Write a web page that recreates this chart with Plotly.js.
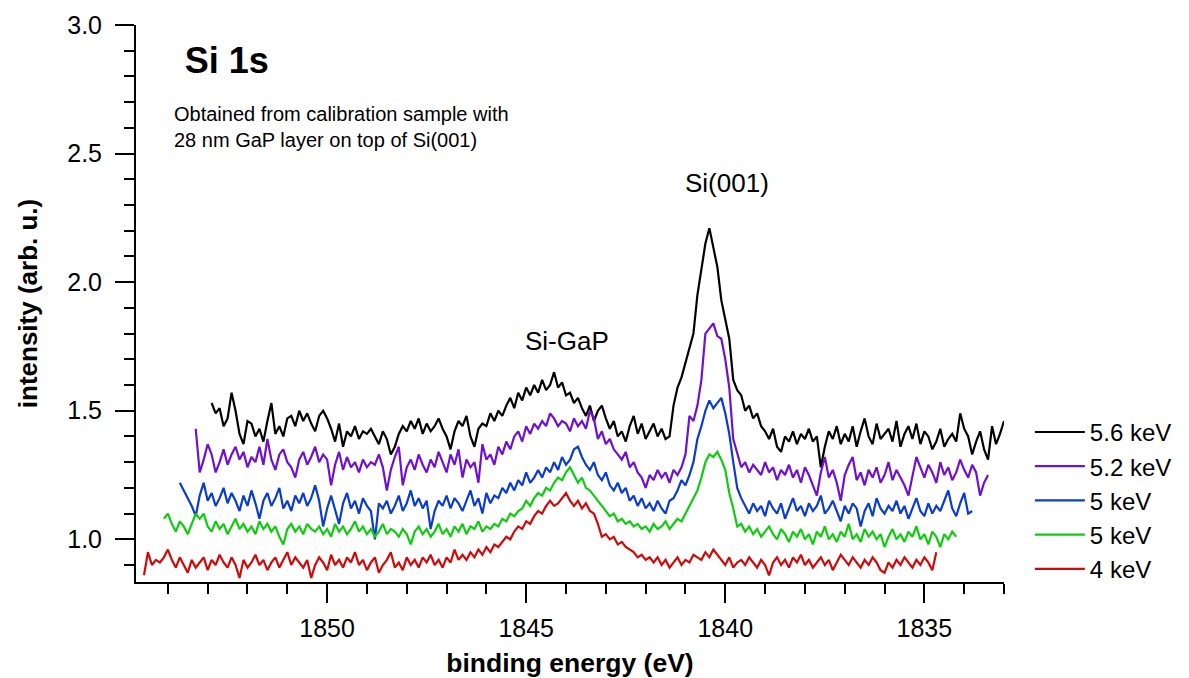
<!DOCTYPE html>
<html>
<head>
<meta charset="utf-8">
<script src="https://cdn.plot.ly/plotly-3.0.1.min.js"></script>
<style>html,body{margin:0;padding:0;background:#fff;}#chart{width:1189px;height:678px;}</style>
</head>
<body>
<div id="chart"></div>
<script>
// Energy grid: each spectrum starts at its own binding energy and is sampled every 0.1 eV (descending)
const stepEV = 0.1;
const seriesNames = ["5.6 keV", "5.2 keV", "5 keV", "5 keV", "4 keV"];
const seriesStart = [1852.9, 1853.3, 1853.7, 1854.1, 1854.6];

const int56 = [
1.53,1.49,1.51,1.44,1.47,1.57,1.50,1.41,1.37,1.46,
1.45,1.40,1.43,1.38,1.46,1.53,1.41,1.44,1.40,1.47,
1.48,1.44,1.50,1.46,1.49,1.45,1.42,1.48,1.50,1.47,
1.43,1.38,1.45,1.36,1.42,1.40,1.44,1.39,1.42,1.41,
1.43,1.40,1.37,1.42,1.39,1.33,1.36,1.41,1.44,1.42,
1.46,1.43,1.47,1.41,1.45,1.42,1.44,1.47,1.43,1.40,
1.35,1.42,1.46,1.44,1.48,1.40,1.36,1.43,1.45,1.44,
1.49,1.46,1.50,1.48,1.52,1.55,1.51,1.57,1.54,1.59,
1.56,1.60,1.57,1.62,1.58,1.60,1.65,1.59,1.61,1.56,
1.57,1.53,1.55,1.51,1.48,1.52,1.46,1.50,1.52,1.47,
1.43,1.46,1.40,1.42,1.38,1.44,1.48,1.41,1.45,1.39,
1.42,1.45,1.40,1.43,1.39,1.40,1.52,1.59,1.63,1.69,
1.74,1.80,1.95,2.06,2.15,2.21,2.13,2.06,1.93,1.86,
1.78,1.62,1.58,1.56,1.50,1.52,1.47,1.49,1.44,1.42,
1.39,1.43,1.36,1.34,1.40,1.38,1.42,1.37,1.41,1.39,
1.43,1.38,1.40,1.28,1.36,1.42,1.39,1.44,1.37,1.41,
1.38,1.44,1.36,1.42,1.47,1.40,1.37,1.45,1.39,1.41,
1.43,1.38,1.46,1.36,1.41,1.44,1.39,1.45,1.37,1.42,
1.40,1.35,1.38,1.43,1.36,1.39,1.41,1.38,1.49,1.43,
1.40,1.33,1.38,1.42,1.35,1.31,1.44,1.37,1.41,1.46
];

const int52 = [
1.43,1.26,1.31,1.37,1.33,1.26,1.30,1.35,1.29,1.33,
1.36,1.31,1.34,1.28,1.32,1.30,1.36,1.29,1.39,1.31,
1.27,1.33,1.35,1.30,1.28,1.24,1.31,1.34,1.29,1.32,
1.36,1.30,1.33,1.31,1.21,1.29,1.34,1.27,1.32,1.28,
1.30,1.26,1.31,1.28,1.30,1.29,1.33,1.28,1.19,1.27,
1.32,1.36,1.21,1.28,1.31,1.27,1.33,1.29,1.26,1.31,
1.28,1.34,1.30,1.26,1.33,1.29,1.35,1.24,1.31,1.28,
1.30,1.22,1.37,1.31,1.33,1.29,1.36,1.33,1.38,1.35,
1.40,1.42,1.38,1.44,1.41,1.45,1.43,1.46,1.44,1.49,
1.47,1.44,1.46,1.45,1.42,1.47,1.44,1.46,1.43,1.50,
1.47,1.39,1.42,1.37,1.39,1.35,1.33,1.31,1.34,1.28,
1.30,1.26,1.24,1.20,1.25,1.23,1.27,1.24,1.26,1.22,
1.27,1.25,1.28,1.33,1.48,1.46,1.52,1.62,1.80,1.82,
1.84,1.79,1.78,1.70,1.59,1.39,1.33,1.28,1.30,1.26,
1.29,1.27,1.25,1.30,1.26,1.28,1.23,1.27,1.25,1.29,
1.24,1.27,1.22,1.28,1.25,1.21,1.17,1.26,1.32,1.24,
1.27,1.22,1.15,1.25,1.29,1.32,1.23,1.26,1.21,1.27,
1.24,1.28,1.22,1.25,1.30,1.23,1.27,1.24,1.21,1.17,
1.25,1.32,1.28,1.24,1.29,1.26,1.22,1.30,1.25,1.28,
1.23,1.26,1.31,1.27,1.24,1.29,1.26,1.17,1.22,1.25
];

const int50a = [
1.22,1.19,1.16,1.13,1.09,1.17,1.22,1.15,1.18,1.13,
1.16,1.20,1.14,1.18,1.15,1.11,1.17,1.13,1.19,1.14,
1.08,1.15,1.18,1.13,1.16,1.20,1.12,1.15,1.11,1.17,
1.14,1.18,1.13,1.16,1.21,1.15,1.05,1.12,1.17,1.11,
1.06,1.14,1.18,1.12,1.15,1.10,1.16,1.13,1.11,1.00,
1.14,1.12,1.15,1.10,1.13,1.17,1.11,1.14,1.19,1.13,
1.16,1.12,1.15,1.04,1.11,1.15,1.13,1.17,1.12,1.16,
1.14,1.11,1.15,1.19,1.13,1.16,1.10,1.18,1.14,1.17,
1.16,1.20,1.18,1.22,1.19,1.23,1.21,1.26,1.22,1.24,
1.27,1.24,1.28,1.26,1.30,1.27,1.32,1.29,1.31,1.35,
1.36,1.32,1.29,1.27,1.30,1.25,1.23,1.26,1.21,1.19,
1.22,1.18,1.20,1.15,1.17,1.13,1.16,1.12,1.14,1.11,
1.15,1.12,1.10,1.15,1.16,1.19,1.23,1.21,1.25,1.30,
1.39,1.44,1.50,1.54,1.51,1.53,1.55,1.49,1.41,1.30,
1.20,1.16,1.13,1.10,1.14,1.11,1.13,1.09,1.15,1.12,
1.10,1.14,1.08,1.12,1.16,1.11,1.13,1.09,1.14,1.11,
1.13,1.17,1.10,1.12,1.15,1.11,1.07,1.13,1.10,1.14,
1.12,1.05,1.11,1.14,1.09,1.16,1.12,1.10,1.13,1.11,
1.15,1.10,1.13,1.08,1.12,1.16,1.11,1.09,1.14,1.10,
1.13,1.11,1.15,1.19,1.12,1.09,1.14,1.18,1.10,1.11
];

const int50b = [
1.08,1.10,1.06,1.03,1.07,1.05,1.02,1.06,1.10,1.08,
1.10,1.05,1.03,1.07,1.04,1.06,1.02,1.05,1.08,1.04,
1.06,1.03,1.05,1.02,1.07,1.04,1.06,1.03,1.05,1.01,
0.98,1.04,1.06,1.03,1.05,1.02,1.06,1.04,1.03,1.05,
1.02,1.04,1.01,1.06,1.03,1.05,1.02,1.04,1.07,1.03,
1.05,1.02,1.04,1.01,1.03,1.06,1.02,1.04,1.03,1.01,
1.04,1.02,0.98,1.03,1.05,1.02,1.04,1.01,1.03,1.06,
1.02,1.04,1.01,1.05,1.03,1.06,1.02,1.05,1.04,1.07,
1.03,1.05,1.04,1.06,1.05,1.08,1.07,1.10,1.09,1.11,
1.12,1.15,1.13,1.16,1.18,1.17,1.20,1.19,1.22,1.24,
1.23,1.26,1.28,1.25,1.22,1.24,1.20,1.19,1.17,1.15,
1.13,1.11,1.09,1.10,1.07,1.08,1.06,1.07,1.05,1.06,
1.04,1.05,1.03,1.06,1.04,1.05,1.07,1.04,1.06,1.08,
1.07,1.10,1.13,1.16,1.19,1.24,1.30,1.33,1.32,1.34,
1.31,1.27,1.18,1.12,1.05,1.06,1.03,1.05,1.02,1.04,
1.01,1.03,1.05,1.02,1.00,1.04,1.02,0.99,1.03,1.01,
1.04,1.00,1.02,0.98,1.03,1.01,1.05,1.00,1.02,0.99,
1.03,1.01,1.06,1.00,1.02,0.99,1.04,1.01,1.03,1.00,
1.02,0.97,1.01,1.04,1.00,1.02,0.99,1.03,1.01,1.05,
1.00,1.02,0.98,1.03,1.01,0.97,1.02,1.00,1.03,1.01
];

const int40 = [
0.86,0.95,0.90,0.92,0.91,0.93,0.96,0.92,0.89,0.93,
0.90,0.87,0.92,0.89,0.91,0.93,0.88,0.92,0.90,0.94,
0.91,0.89,0.93,0.90,0.85,0.92,0.89,0.91,0.94,0.90,
0.92,0.88,0.91,0.93,0.89,0.92,0.95,0.90,0.93,0.91,
0.89,0.92,0.85,0.90,0.93,0.91,0.88,0.94,0.90,0.92,
0.89,0.93,0.91,0.95,0.90,0.92,0.88,0.91,0.93,0.87,
0.90,0.92,0.95,0.89,0.91,0.88,0.93,0.90,0.92,0.89,
0.93,0.91,0.94,0.90,0.92,0.89,0.93,0.91,0.96,0.92,
0.94,0.92,0.95,0.93,0.96,0.94,0.97,0.95,0.98,0.97,
0.99,1.01,1.00,1.03,1.05,1.04,1.07,1.06,1.09,1.11,
1.10,1.13,1.15,1.13,1.14,1.16,1.18,1.15,1.13,1.15,
1.12,1.14,1.11,1.10,1.06,1.01,1.02,1.00,1.01,0.98,
0.99,0.97,0.96,0.95,0.93,0.94,0.92,0.93,0.91,0.93,
0.90,0.92,0.89,0.91,0.93,0.90,0.92,0.91,0.94,0.93,
0.92,0.95,0.93,0.96,0.94,0.92,0.90,0.93,0.89,0.91,
0.92,0.90,0.93,0.91,0.89,0.92,0.90,0.86,0.91,0.93,
0.90,0.92,0.89,0.93,0.91,0.94,0.90,0.92,0.89,0.91,
0.93,0.90,0.92,0.88,0.91,0.94,0.92,0.90,0.93,0.91,
0.89,0.92,0.90,0.93,0.91,0.88,0.87,0.91,0.89,0.92,
0.90,0.93,0.91,0.89,0.92,0.90,0.93,0.91,0.88,0.95
];

const seriesValues = [int56, int52, int50a, int50b, int40];
const seriesColors = ["#000000", "#7010d0", "#0a3cd0", "#10cc10", "#d00a0a"];

const xTickVals = [1850, 1845, 1840, 1835];
const yTickVals = [1.0, 1.5, 2.0, 2.5, 3.0];

const FONT = "Liberation Sans, Arial, Helvetica, sans-serif";

const traces = seriesValues.map((vals, k) => ({
  type: "scatter",
  mode: "lines",
  name: seriesNames[k],
  x: vals.map((_, i) => +(seriesStart[k] - stepEV * i).toFixed(2)),
  y: vals,
  line: { color: seriesColors[k], width: 2.2 }
}));

const axisCommon = {
  showline: true, linecolor: "#000", linewidth: 2,
  ticks: "outside", ticklen: 19, tickwidth: 2, tickcolor: "#000",
  showgrid: false, zeroline: false, mirror: false,
  tickfont: { family: FONT, size: 25, color: "#000" }
};

const layout = {
  width: 1189, height: 678,
  margin: { l: 136, r: 181, t: 25, b: 96, pad: 0 },
  paper_bgcolor: "#fff", plot_bgcolor: "#fff",
  font: { family: FONT, color: "#000" },
  title: {
    text: "Si 1s",
    font: { family: FONT, size: 36, weight: "bold", color: "#000" },
    xref: "paper", yref: "paper", x: 0.0562, xanchor: "left", y: 0.937, yanchor: "middle"
  },
  xaxis: Object.assign({}, axisCommon, {
    range: [1854.8, 1833.0],
    tickvals: xTickVals,
    ticklabelstandoff: 4,
    minor: { dtick: 1, tick0: 1850, ticks: "outside", ticklen: 10, tickwidth: 2, tickcolor: "#000", showgrid: false },
    title: { text: "binding energy (eV)", font: { family: FONT, size: 26.5, weight: "bold", color: "#000" }, standoff: 12 }
  }),
  yaxis: Object.assign({}, axisCommon, {
    range: [0.834, 3.0],
    tickvals: yTickVals,
    tickformat: ".1f",
    ticklabelstandoff: 8,
    minor: { dtick: 0.1, tick0: 1.0, ticks: "outside", ticklen: 10, tickwidth: 2, tickcolor: "#000", showgrid: false },
    title: { text: "intensity (arb. u.)", font: { family: FONT, size: 26, weight: "bold", color: "#000" }, standoff: 22 }
  }),
  legend: {
    x: 1.0298, xanchor: "left", y: 0.309, yanchor: "top",
    itemwidth: 50,
    font: { family: FONT, size: 24, color: "#000" },
    bgcolor: "rgba(0,0,0,0)", borderwidth: 0, tracegroupgap: 0
  },
  showlegend: true,
  annotations: [
    { text: "Obtained from calibration sample with<br>28 nm GaP layer on top of Si(001)",
      xref: "x", yref: "y", x: 1853.9, y: 2.604, xanchor: "left", yanchor: "middle", align: "left",
      showarrow: false, font: { family: FONT, size: 20, color: "#000" } },
    { text: "Si(001)", xref: "x", yref: "y", x: 1839.96, y: 2.386, xanchor: "center", yanchor: "middle",
      showarrow: false, font: { family: FONT, size: 26, color: "#000" } },
    { text: "Si-GaP", xref: "x", yref: "y", x: 1843.97, y: 1.77, xanchor: "center", yanchor: "middle",
      showarrow: false, font: { family: FONT, size: 26, color: "#000" } }
  ]
};

Plotly.newPlot("chart", traces, layout, { displayModeBar: false, staticPlot: true });
</script>
</body>
</html>
